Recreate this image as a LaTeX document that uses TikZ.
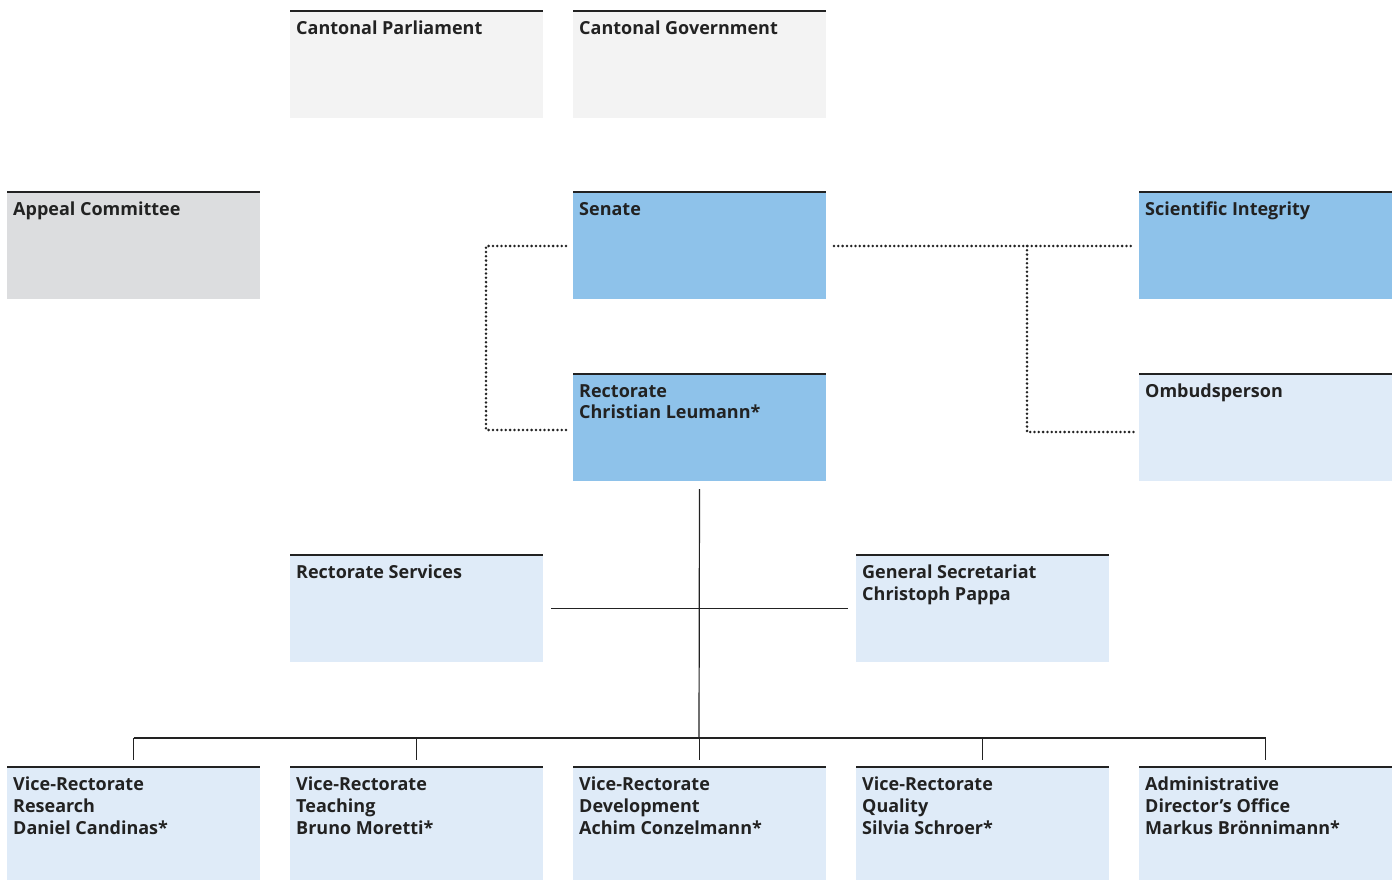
\documentclass[tikz,border=0pt]{standalone}
\usepackage{fontspec}
\setmainfont{Open Sans}
\definecolor{cgray}{HTML}{F3F3F3}
\definecolor{agray}{HTML}{DCDDDF}
\definecolor{sblue}{HTML}{8EC2EA}
\definecolor{lblue}{HTML}{DFEBF8}
\definecolor{ink}{HTML}{222222}
\begin{document}
\begin{tikzpicture}[x=1pt,y=-1pt,
  box/.style={draw=none,minimum width=253pt,minimum height=107pt,anchor=north west,inner sep=0pt,outer sep=0pt},
  txt/.style={anchor=north west,align=left,inner sep=0pt,text=ink,font=\fontsize{18}{21.6}\selectfont\bfseries},
  topline/.style={draw=ink,line width=2pt},
  conn/.style={draw=ink,line width=1.2pt},
  dots/.style={draw=ink,line width=2.8pt,dash pattern=on 0pt off 4.3pt,line cap=round}]
\useasboundingbox (0,0) rectangle (1400,880);
\newcommand{\orgbox}[5]{%
  \node[box,fill=#4] (#1) at (#2,#3) {};
  \draw[topline] (#1.north west) -- (#1.north east);
  \node[txt] (#1t) at ([xshift=6pt,yshift=-10pt]#1.north west) {#5};}
\orgbox{parl}{290}{11}{cgray}{Cantonal Parliament}
\orgbox{gov}{573}{11}{cgray}{Cantonal Government}
\orgbox{appeal}{7}{192}{agray}{Appeal Committee}
\orgbox{senate}{573}{192}{sblue}{Senate}
\orgbox{integ}{1139}{192}{sblue}{Scientific Integrity}
\orgbox{rect}{573}{374}{sblue}{Rectorate\\Christian Leumann*}
\orgbox{ombud}{1139}{374}{lblue}{Ombudsperson}
\orgbox{rserv}{290}{555}{lblue}{Rectorate Services}
\orgbox{gsec}{856}{555}{lblue}{General Secretariat\\Christoph Pappa}
\node[box,fill=lblue,minimum height=114pt] (vr1) at (7,767) {};
\node[box,fill=lblue,minimum height=114pt] (vr2) at (290,767) {};
\node[box,fill=lblue,minimum height=114pt] (vr3) at (573,767) {};
\node[box,fill=lblue,minimum height=114pt] (vr4) at (856,767) {};
\node[box,fill=lblue,minimum height=114pt] (vr5) at (1139,767) {};
\foreach \n in {vr1,vr2,vr3,vr4,vr5}{\draw[topline] (\n.north west) -- (\n.north east);}
\node[txt] (vr1t) at ([xshift=6pt,yshift=-10pt]vr1.north west) {Vice-Rectorate\\Research\\Daniel Candinas*};
\node[txt] (vr2t) at ([xshift=6pt,yshift=-10pt]vr2.north west) {Vice-Rectorate\\Teaching\\Bruno Moretti*};
\node[txt] (vr3t) at ([xshift=6pt,yshift=-10pt]vr3.north west) {Vice-Rectorate\\Development\\Achim Conzelmann*};
\node[txt] (vr4t) at ([xshift=6pt,yshift=-10pt]vr4.north west) {Vice-Rectorate\\Quality\\Silvia Schroer*};
\node[txt] (vr5t) at ([xshift=6pt,yshift=-10pt]vr5.north west) {Administrative\\Director’s Office\\Markus Brönnimann*};
% solid connectors
\coordinate (bus) at (699,738);
\draw[conn] ([yshift=-8pt]rect.south) -- (bus);
\draw[conn] ([xshift=8pt]rserv.east) -- ([xshift=-8pt]gsec.west);
\draw[conn] (vr1.north |- bus) -- (vr5.north |- bus);
\foreach \n in {vr1,vr2,vr3,vr4,vr5}{\draw[conn] (\n.north |- bus) -- ([yshift=7pt]\n.north);}
% dotted connectors
\coordinate (lx) at (486,246);
\draw[dots] ([xshift=-7pt]senate.west |- lx) -- (lx) -- (lx |- 0,430) -- ([xshift=-7pt]rect.west |- 0,430);
\coordinate (rx) at (1027,246);
\draw[dots] ([xshift=8pt]senate.east |- rx) -- ([xshift=-7pt]integ.west |- rx);
\draw[dots] (rx) -- (1027,432) -- ([xshift=-3pt]ombud.west |- 0,432);
\end{tikzpicture}
\end{document}
